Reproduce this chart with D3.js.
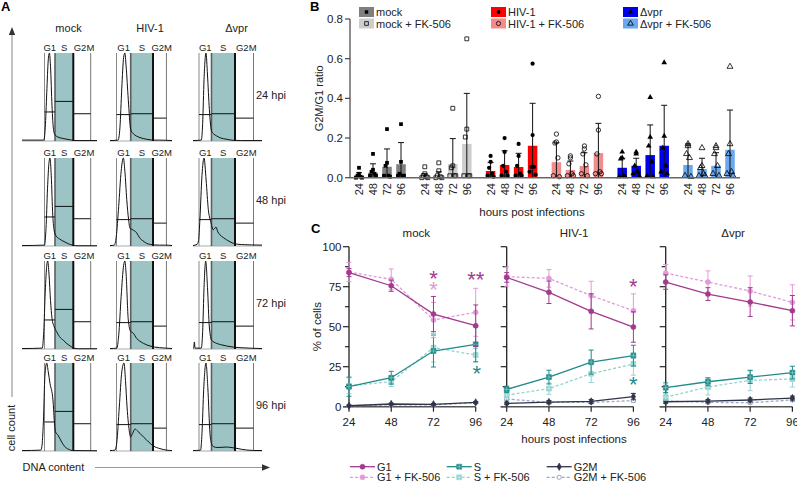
<!DOCTYPE html>
<html>
<head>
<meta charset="utf-8">
<script src="https://cdn.jsdelivr.net/npm/d3@7"></script>
<style>
body { margin: 0; background: #fff; }
svg { display: block; font-family: "Liberation Sans", Arial, Helvetica, sans-serif; }
</style>
</head>
<body>
<svg id="fig" width="797" height="484"></svg>
<script>
// ---------------- panel A : DNA content histograms ----------------
var infections = ["mock", "HIV-1", "\u0394vpr"];
var hpiLabels = ["24 hpi", "48 hpi", "72 hpi", "96 hpi"];
var phases = ["G1", "S", "G2M"];
// gate borders on the DNA axis (0-100): G1 start, S start, S end, G2M end
var gateBounds = [[30, 44, 68.4, 91.6], [10.5, 33.4, 69.4, 91], [8.7, 26.8, 60.9, 87.7]];
// height of the gate statistic bars (fraction of mode)
var gateMarks = [[0.33, 0.45, 0.31], [0.30, 0.31, 0.26], [0.30, 0.31, 0.26]];

// [DNA content, count / mode]
var hMock24 = [[0,0.01],[29,0.01],[31,0.15],[33,0.55],[35,0.92],[36.5,1],[38,0.85],[40,0.4],[42,0.13],[44,0.07],[48,0.045],[54,0.03],[60,0.02],[66,0.01],[72,0.005],[100,0.005]];
var hMock48 = [[0,0.005],[30,0.01],[32,0.2],[34,0.65],[36,0.95],[37.3,1],[39,0.8],[41,0.35],[43,0.17],[45,0.12],[50,0.08],[56,0.05],[62,0.025],[68,0.008],[75,0.003],[100,0.003]];
var hMock72 = [[0,0.005],[27,0.01],[29,0.2],[31,0.65],[33,0.95],[34.3,1],[36,0.85],[38,0.55],[40,0.35],[43,0.25],[46,0.2],[50,0.14],[55,0.1],[60,0.06],[65,0.03],[69,0.01],[75,0.003],[100,0.003]];
var hMock96 = [[0,0.005],[25,0.01],[26.5,0.05],[28.5,0.33],[30.5,0.85],[32.9,1],[35,0.9],[37.3,0.77],[41.3,0.58],[43,0.35],[44.5,0.22],[48,0.18],[53,0.1],[57,0.05],[62,0.02],[67,0.005],[100,0.003]];
var hHiv24 = [[0,0.005],[13,0.01],[16,0.15],[19,0.6],[22,0.95],[24,1],[26,0.85],[29.5,0.47],[33.4,0.13],[38,0.08],[43,0.055],[50,0.035],[59,0.02],[70,0.01],[80,0.01],[90,0.008],[100,0.005]];
var hHiv48 = [[0,0.005],[7,0.01],[10,0.1],[14,0.45],[18,0.85],[21.5,1],[24,0.85],[27,0.53],[30,0.3],[32.3,0.2],[35,0.19],[37.6,0.18],[40,0.17],[43,0.15],[48,0.09],[53,0.06],[59,0.03],[65,0.018],[70,0.012],[80,0.01],[90,0.01],[100,0.005]];
var hHiv72 = [[0,0.005],[11,0.01],[14,0.15],[18,0.6],[22,0.95],[24,1],[26,0.85],[29.5,0.33],[33.4,0.2],[37.6,0.18],[43,0.12],[48,0.09],[54,0.064],[64.5,0.034],[72,0.022],[80,0.015],[90,0.01],[100,0.005]];
var hHiv96 = [[0,0.005],[8,0.01],[11,0.1],[15,0.5],[19,0.9],[22.6,1],[25,0.8],[27.5,0.5],[29.6,0.32],[33.4,0.16],[36.5,0.2],[40.3,0.25],[44,0.23],[48.4,0.2],[54,0.16],[59,0.125],[65,0.085],[70,0.057],[80.6,0.027],[91,0.01],[100,0.005]];
var hVpr24 = [[0,0.005],[12,0.01],[14,0.2],[16,0.7],[18.8,1],[21,0.75],[23.7,0.36],[25.5,0.18],[27,0.11],[30,0.08],[34.3,0.057],[40,0.035],[48.8,0.02],[58,0.008],[70,0.005],[100,0.005]];
var hVpr48 = [[0,0.005],[6,0.02],[8,0.06],[10,0.3],[13,0.8],[16,1],[19,0.75],[22.2,0.415],[25.6,0.28],[29.5,0.185],[33.3,0.215],[36,0.16],[39,0.127],[44,0.095],[48.8,0.07],[58.5,0.03],[65,0.02],[75,0.015],[85,0.012],[100,0.01]];
var hVpr72 = [[0,0.005],[1,0.01],[2,0.08],[3,0.01],[12,0.01],[14,0.2],[16,0.7],[18.4,1],[21,0.7],[23.7,0.25],[27,0.1],[34.3,0.064],[40,0.05],[48.8,0.034],[58,0.022],[68,0.015],[87,0.008],[100,0.005]];
var hVpr96 = [[0,0.005],[11,0.01],[13,0.2],[15.5,0.7],[18.8,1],[21.5,0.72],[24.6,0.2],[27,0.08],[29.5,0.05],[35,0.04],[42,0.042],[48,0.045],[55,0.04],[62,0.032],[70,0.02],[78,0.011],[88,0.006],[100,0.005]];

// ---------------- panel B : G2M/G1 ratio ----------------
var ratioGroups = ["mock", "mock + FK-506", "HIV-1", "HIV-1 + FK-506", "\u0394vpr", "\u0394vpr + FK-506"];
var hours = ["24", "48", "72", "96"];
var ratioTicks = [0, 0.2, 0.4, 0.6, 0.8];
var ratioMean = [
	[0.012, 0.025, 0.055, 0.068],
	[0.006, 0.006, 0.069, 0.170],
	[0.034, 0.064, 0.054, 0.161],
	[0.078, 0.039, 0.059, 0.124],
	[0.050, 0.060, 0.114, 0.161],
	[0.064, 0.044, 0.060, 0.141]
];
var ratioSd = [
	[0.013, 0.045, 0.090, 0.109],
	[0.014, 0.024, 0.128, 0.255],
	[0.042, 0.072, 0.069, 0.214],
	[0.098, 0.045, 0.067, 0.150],
	[0.048, 0.038, 0.152, 0.204],
	[0.106, 0.054, 0.066, 0.200]
];
var ptsMock = [[0.05,0.02,0.01,0.005,0,0],[0.12,0.04,0.03,0.02,0.01,0.01],[0.245,0.075,0.06,0.01,0.01,0.005],[0.27,0.08,0.02,0.01,0.01,0.01]];
var ptsMockFk = [[0.055,0.02,0.01,0.005,0,0],[0.075,0.035,0.01,0.005,0,0],[0.35,0.06,0.05,0.01,0.01,0.01],[0.70,0.245,0.205,0.01,0.01,0.01]];
var ptsHiv = [[0.11,0.08,0.05,0.02,0.01,0.005],[0.20,0.13,0.06,0.03,0.01,0.01],[0.17,0.11,0.06,0.02,0.01,0.01],[0.575,0.215,0.055,0.055,0.03,0.015]];
var ptsHivFk = [[0.22,0.18,0.175,0.10,0.01,0.005],[0.11,0.10,0.07,0.02,0.01,0.01],[0.16,0.145,0.12,0.065,0.02,0.01],[0.41,0.24,0.12,0.03,0.02,0.02]];
var ptsVpr = [[0.13,0.10,0.095,0.01,0.005,0.005],[0.13,0.12,0.06,0.03,0.02,0.01],[0.405,0.205,0.16,0.08,0.01,0.005],[0.58,0.21,0.15,0.06,0.03,0.02]];
var ptsVprFk = [[0.17,0.16,0.12,0.10,0.01,0.005],[0.15,0.06,0.05,0.02,0.01,0.01],[0.16,0.15,0.12,0.06,0.02,0.01],[0.56,0.17,0.12,0.03,0.02,0.01]];

// ---------------- panel C : % of cells (rows: mock, HIV-1, dvpr) ----------------
var hpi = [24, 48, 72, 96];
var pctTicks = [0, 25, 50, 75, 100];
var g1Mean = [[83.8, 75.6, 57.9, 50.6], [80.8, 71.5, 59.6, 49.8], [77.9, 70.4, 65.4, 60.0]];
var g1Sd = [[2.5, 3.5, 11, 13], [3, 7, 11, 9.5], [4.5, 4, 9, 9.5]];
var g1FkMean = [[84.2, 79.6, 54.2, 59.0], [81.3, 80.2, 69.4, 60.0], [83.5, 77.9, 72.3, 65.2]];
var g1FkSd = [[6, 6.5, 11, 15], [6, 5.5, 9, 10.5], [5.4, 7, 9.4, 11]];
var sMean = [[12.5, 18.1, 34.8, 39.0], [10.8, 18.5, 27.9, 31.9], [11.9, 15.6, 18.5, 21.3]];
var sSd = [[6, 4, 10, 11], [2, 4.3, 7.5, 6.5], [3, 2.5, 4, 4]];
var sFkMean = [[13.1, 15.6, 36.9, 32.3], [7.3, 11.3, 20.6, 26.7], [6.0, 12.3, 16.5, 17.3]];
var sFkSd = [[5, 3, 9, 4], [3, 3.5, 5.5, 7], [2, 5, 6.5, 5]];
var g2mMean = [[0.6, 1.7, 1.5, 2.7], [2.1, 2.9, 3.3, 6.3], [3.1, 3.5, 4.2, 5.4]];
var g2mSd = [[0.4, 0.5, 0.5, 0.5], [0.8, 1, 1.2, 2], [1, 1, 1.2, 1.2]];
var g2mFkMean = [[0.5, 1.2, 1.2, 2.5], [4.8, 2.7, 2.7, 3.8], [3.5, 2.7, 2.5, 4.2]];
var g2mFkSd = [[0.4, 0.5, 0.5, 0.5], [1, 0.8, 0.8, 1], [1, 0.8, 0.8, 1]];
// significance marks: panel, hpi, level (%), series, mark
var starMarks = [[0, 72, 83, "G1", "*"], [0, 72, 76.5, "G1 + FK-506", "*"], [0, 96, 82.5, "G1", "**"], [0, 96, 24, "S", "*"], [1, 96, 78.5, "G1", "*"], [1, 96, 17, "S", "*"]];

var svg = d3.select("#fig");

function sym(shape, size){
	var types = {square: d3.symbolSquare, circle: d3.symbolCircle, triangle: d3.symbolTriangle, diamond: d3.symbolDiamond};
	return d3.symbol().type(types[shape]).size(size)();
}

function label(txt, x, y, size, opt){
	opt = opt || {};
	var t = svg.append("text").attr("x", x).attr("y", y)
		.attr("font-size", size).attr("fill", opt.fill || "#222")
		.attr("text-anchor", opt.anchor || "start").text(txt);
	if(opt.bold) t.attr("font-weight", "bold");
	if(opt.rotate) t.attr("transform", "rotate(-90," + x + "," + y + ")");
	return t;
}

// ---------------- A ----------------
(function(){
	var colRange = [[22, 97], [110, 172], [193, 262]];
	var rowBase = [141, 246, 349, 451];
	var panelH = 88;
	var rows = [[hMock24, hHiv24, hVpr24], [hMock48, hHiv48, hVpr48], [hMock72, hHiv72, hVpr72], [hMock96, hHiv96, hVpr96]];
	var g = svg.append("g");

	label("A", 1, 11, 13, {bold: true, fill: "#000"});
	infections.forEach(function(name, c){
		label(name, (colRange[c][0] + colRange[c][1]) / 2 + 9, 32, 11, {anchor: "middle"});
	});

	rows.forEach(function(row, r){
		var base = rowBase[r];
		var y = d3.scaleLinear().domain([0, 1]).range([base, base - panelH]);
		label(hpiLabels[r], 256, base - 42, 11);
		row.forEach(function(hist, c){
			var x = d3.scaleLinear().domain([0, 100]).range(colRange[c]);
			var gb = gateBounds[c];
			g.append("rect").attr("x", x(gb[1])).attr("y", y(1)).attr("width", x(gb[2]) - x(gb[1])).attr("height", panelH)
				.attr("fill", "#9dc4c4");
			g.append("line").attr("x1", x(0)).attr("x2", x(100)).attr("y1", base).attr("y2", base)
				.attr("stroke", "#aaa").attr("stroke-width", 1);
			var gateStyle = [["#8a8a8a", 1], ["#5e5e5e", 1.6], ["#111", 2], ["#777", 1]];
			gb.forEach(function(v, i){
				g.append("line").attr("x1", x(v)).attr("x2", x(v)).attr("y1", y(1)).attr("y2", base)
					.attr("stroke", gateStyle[i][0]).attr("stroke-width", gateStyle[i][1]);
			});
			g.append("path").datum(hist)
				.attr("d", d3.line().x(function(d){ return x(d[0]); }).y(function(d){ return y(d[1]); }).curve(d3.curveMonotoneX))
				.attr("fill", "none").attr("stroke", "#111").attr("stroke-width", 1);
			gateMarks[c].forEach(function(m, i){
				g.append("line").attr("x1", x(gb[i])).attr("x2", x(gb[i + 1])).attr("y1", y(m)).attr("y2", y(m))
					.attr("stroke", "#111").attr("stroke-width", 1);
				var cx = (x(gb[i]) + x(gb[i + 1])) / 2 + (i === 2 ? 2 : 0);
				label(phases[i], cx, y(1) - 2, 9.5, {anchor: "middle"});
			});
		});
	});

	// axes arrows
	g.append("line").attr("x1", 12).attr("x2", 12).attr("y1", 397).attr("y2", 34).attr("stroke", "#999").attr("stroke-width", 1.2);
	g.append("path").attr("d", "M12,27L8.8,35L15.2,35Z").attr("fill", "#333");
	label("cell count", 15, 428, 11, {anchor: "middle", rotate: true});
	g.append("line").attr("x1", 95).attr("x2", 263).attr("y1", 467.5).attr("y2", 467.5).attr("stroke", "#999").attr("stroke-width", 1.2);
	g.append("path").attr("d", "M270,467.5L262,464.3L262,470.7Z").attr("fill", "#333");
	label("DNA content", 22.5, 471, 11);
})();

// ---------------- B ----------------
(function(){
	var fills = ["#7f7f7f", "#cdcdcd", "#ff0000", "#f28b8b", "#0000f0", "#6aa9ef"];
	var shapes = ["square", "square", "circle", "circle", "triangle", "triangle"];
	var open = [false, true, false, true, false, true];
	var pts = [ptsMock, ptsMockFk, ptsHiv, ptsHivFk, ptsVpr, ptsVprFk];
	var jitter = [0, 0, -1.5, 1.5, -3, 3];
	var y = d3.scaleLinear().domain([0, 0.8]).range([177.7, 19]);
	var gx = d3.scalePoint().domain(ratioGroups).range([380, 709]);
	var hx = d3.scalePoint().domain(hours).range([-21, 21]);
	var g = svg.append("g");
	var barW = 9.5;

	label("B", 310, 11, 13, {bold: true, fill: "#000"});

	ratioGroups.forEach(function(grp, gi){
		hours.forEach(function(h, hi){
			var cx = gx(grp) + hx(h);
			var m = ratioMean[gi][hi], s = ratioSd[gi][hi];
			g.append("rect").attr("x", cx - barW / 2).attr("y", y(m)).attr("width", barW).attr("height", y(0) - y(m))
				.attr("fill", fills[gi]);
			g.append("line").attr("x1", cx).attr("x2", cx).attr("y1", y(Math.max(0, m - s))).attr("y2", y(m + s))
				.attr("stroke", "#111").attr("stroke-width", 1);
			g.append("line").attr("x1", cx - 3).attr("x2", cx + 3).attr("y1", y(m + s)).attr("y2", y(m + s))
				.attr("stroke", "#111").attr("stroke-width", 1);
			pts[gi][hi].forEach(function(v, i){
				g.append("path").attr("d", sym(shapes[gi], open[gi] ? 15 : 14))
					.attr("transform", "translate(" + (cx + jitter[i]) + "," + y(v) + ")")
					.attr("fill", open[gi] ? "none" : "#000").attr("stroke", "#000").attr("stroke-width", open[gi] ? 0.8 : 0);
			});
			svg.append("text").attr("transform", "translate(" + cx + ",183) rotate(-90)")
				.attr("dy", "0.36em").attr("text-anchor", "end").attr("font-size", 11).attr("fill", "#222").text(h);
		});
	});

	// axes
	g.append("line").attr("x1", 350).attr("x2", 350).attr("y1", y(0.8)).attr("y2", y(0)).attr("stroke", "#444").attr("stroke-width", 1.2);
	g.append("line").attr("x1", 350).attr("x2", 740).attr("y1", y(0)).attr("y2", y(0)).attr("stroke", "#666").attr("stroke-width", 1.5);
	ratioTicks.forEach(function(t){
		g.append("line").attr("x1", 345).attr("x2", 350).attr("y1", y(t)).attr("y2", y(t)).attr("stroke", "#444").attr("stroke-width", 1.2);
		label(d3.format(".1f")(t), 343, y(t) + 4, 11.5, {anchor: "end"});
	});
	label("G2M/G1 ratio", 323, y(0.4), 11, {anchor: "middle", rotate: true});
	label("hours post infections", 532, 216, 11.5, {anchor: "middle"});

	// legend
	var legX = [359, 491, 623];
	ratioGroups.forEach(function(grp, gi){
		var lx = legX[Math.floor(gi / 2)], ly = gi % 2 === 0 ? 7 : 18.5;
		g.append("rect").attr("x", lx).attr("y", ly).attr("width", 15).attr("height", 10).attr("fill", fills[gi]);
		g.append("path").attr("d", sym(shapes[gi], open[gi] ? 14 : 12))
			.attr("transform", "translate(" + (lx + 7.5) + "," + (ly + 5) + ")")
			.attr("fill", open[gi] ? "none" : "#000").attr("stroke", "#000").attr("stroke-width", open[gi] ? 0.8 : 0);
		label(grp, lx + 17, ly + 9, 11);
	});
})();

// ---------------- C ----------------
(function(){
	var series = [
		{name: "G2M + FK-506", mean: g2mFkMean, sd: g2mFkSd, color: "#9ba7c6", dash: "3,2", shape: "circle", size: 14, open: true},
		{name: "G2M", mean: g2mMean, sd: g2mSd, color: "#2f3549", dash: null, shape: "diamond", size: 16},
		{name: "S + FK-506", mean: sFkMean, sd: sFkSd, color: "#93d3cf", dash: "3,2", shape: "square", size: 24},
		{name: "S", mean: sMean, sd: sSd, color: "#1f8b8b", dash: null, shape: "square", size: 24},
		{name: "G1 + FK-506", mean: g1FkMean, sd: g1FkSd, color: "#e39ad9", dash: "3,2", shape: "circle", size: 20},
		{name: "G1", mean: g1Mean, sd: g1Sd, color: "#a33a8e", dash: null, shape: "circle", size: 20}
	];
	var colorOf = {};
	series.forEach(function(s){ colorOf[s.name] = s.color; });
	var x0 = [349, 506.7, 665.7];
	var panelW = 126.7;
	var y = d3.scaleLinear().domain([0, 100]).range([406.7, 246.7]);
	var g = svg.append("g");

	label("C", 311, 233, 13, {bold: true, fill: "#000"});

	function marker(sel, s, cx, cy){
		sel.append("path").attr("d", sym(s.shape, s.size))
			.attr("transform", "translate(" + cx + "," + cy + ")")
			.attr("fill", s.open ? "#fff" : s.color).attr("stroke", s.color).attr("stroke-width", s.open ? 1 : 0.6);
		if(s.shape === "square"){
			sel.append("path").attr("d", "M" + (cx - 2.4) + "," + cy + "H" + (cx + 2.4) + "M" + cx + "," + (cy - 2.4) + "V" + (cy + 2.4))
				.attr("stroke", "#fff").attr("stroke-width", 0.5).attr("opacity", 0.7);
		}
	}

	infections.forEach(function(name, p){
		var x = d3.scaleLinear().domain([24, 96]).range([x0[p], x0[p] + panelW]);
		label(name, x0[p] + panelW / 2 + 4, 236.5, 11.5, {anchor: "middle"});

		// y axis with minor ticks
		g.append("line").attr("x1", x0[p]).attr("x2", x0[p]).attr("y1", y(100)).attr("y2", y(0)).attr("stroke", "#222").attr("stroke-width", 1.3);
		d3.range(0, 100.1, 12.5).forEach(function(t){
			var major = t % 25 === 0;
			g.append("line").attr("x1", x0[p] - (major ? 6 : 4)).attr("x2", x0[p]).attr("y1", y(t)).attr("y2", y(t))
				.attr("stroke", "#222").attr("stroke-width", 1.2);
		});
		if(p === 0){
			pctTicks.forEach(function(t){ label(String(t), 341.5, y(t) + 4, 11.5, {anchor: "end"}); });
		}
		// x axis
		g.append("line").attr("x1", x0[p] - 6).attr("x2", x(96)).attr("y1", y(0)).attr("y2", y(0)).attr("stroke", "#555").attr("stroke-width", 1.5);
		hpi.forEach(function(h){
			g.append("line").attr("x1", x(h)).attr("x2", x(h)).attr("y1", y(0)).attr("y2", y(0) + 5).attr("stroke", "#222").attr("stroke-width", 1.2);
			label(String(h), x(h), 426, 11.5, {anchor: "middle"});
		});

		series.forEach(function(s){
			var vals = s.mean[p], sds = s.sd[p];
			hpi.forEach(function(h, i){
				var cx = x(h);
				g.append("line").attr("x1", cx).attr("x2", cx).attr("y1", y(Math.max(0, vals[i] - sds[i]))).attr("y2", y(vals[i] + sds[i]))
					.attr("stroke", s.color).attr("stroke-width", 1);
				[vals[i] - sds[i], vals[i] + sds[i]].forEach(function(v){
					if(v < 0) return;
					g.append("line").attr("x1", cx - 2.5).attr("x2", cx + 2.5).attr("y1", y(v)).attr("y2", y(v))
						.attr("stroke", s.color).attr("stroke-width", 1);
				});
			});
			g.append("path").datum(vals)
				.attr("d", d3.line().x(function(d, i){ return x(hpi[i]); }).y(function(d){ return y(d); }))
				.attr("fill", "none").attr("stroke", s.color).attr("stroke-width", 1.3)
				.attr("stroke-dasharray", s.dash);
			hpi.forEach(function(h, i){ marker(g, s, x(h), y(vals[i])); });
		});
	});

	// stars; marks stacked closely at the same time point share one text element
	var prev = null, prevText = null;
	starMarks.forEach(function(st){
		var x = d3.scaleLinear().domain([24, 96]).range([x0[st[0]], x0[st[0]] + panelW]);
		var cx = x(st[1]) + (st[3] === "S" && st[0] === 0 ? 1 : 0);
		var cy = y(st[2]) + 12.5;
		if(prev && prev[0] === st[0] && prev[1] === st[1] && Math.abs(prev[2] - st[2]) < 10){
			prevText.append("tspan").attr("x", cx).attr("y", cy).attr("fill", colorOf[st[3]]).text(st[4]);
		} else {
			prevText = svg.append("text").attr("font-size", 22).attr("text-anchor", "middle");
			prevText.append("tspan").attr("x", cx).attr("y", cy).attr("fill", colorOf[st[3]]).text(st[4]);
		}
		prev = st;
	});

	label("% of cells", 321, y(50), 11.5, {anchor: "middle", rotate: true});
	label("hours post infections", 574, 443, 11.5, {anchor: "middle"});

	// legend
	var legCols = {"G1": 350, "S": 446.7, "G2M": 546.7};
	series.forEach(function(s){
		var base = s.name.split(" ")[0];
		var lx = legCols[base], ly = s.dash ? 477.3 : 466.7;
		g.append("line").attr("x1", lx).attr("x2", lx + 25).attr("y1", ly).attr("y2", ly)
			.attr("stroke", s.color).attr("stroke-width", 1.3).attr("stroke-dasharray", s.dash);
		marker(g, s, lx + 12.5, ly);
		label(s.name, lx + 27, ly + 3.8, 11);
	});
})();
</script>
</body>
</html>
